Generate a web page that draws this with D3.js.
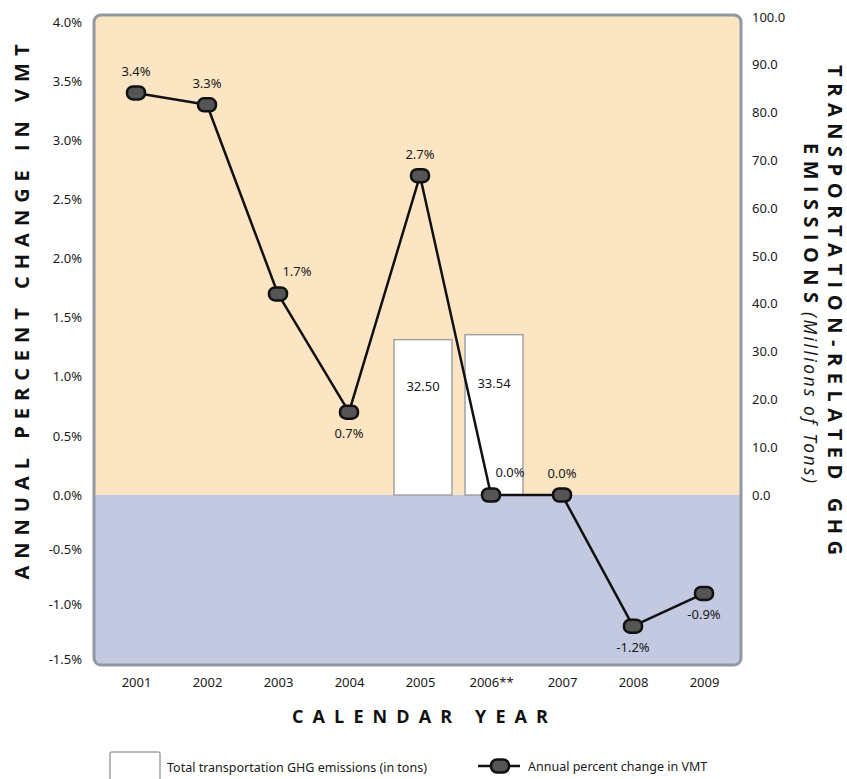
<!DOCTYPE html>
<html>
<head>
<meta charset="utf-8">
<script src="https://cdn.jsdelivr.net/npm/d3@7"></script>
<style>
  html, body { margin: 0; padding: 0; background: #fff; }
  svg { display: block; }
  text { font-family: "Noto Sans", "Liberation Sans", sans-serif; fill: #1a1a1a; }
  .title { font-family: "Open Sans", "DejaVu Sans", sans-serif; font-weight: 700; fill: #111; }
</style>
</head>
<body>
<svg id="chart" width="847" height="779"></svg>
<script>
// Calendar years and their axis labels
const years = ["2001", "2002", "2003", "2004", "2005", "2006", "2007", "2008", "2009"];
const yearLabels = ["2001", "2002", "2003", "2004", "2005", "2006**", "2007", "2008", "2009"];

// Annual percent change in vehicle miles travelled (%)
const vmtChange = [3.4, 3.3, 1.7, 0.7, 2.7, 0.0, 0.0, -1.2, -0.9];

// Total transportation GHG emissions (millions of tons)
const emissionYears = ["2005", "2006"];
const emissions = [32.50, 33.54];

// Axis ticks
const leftTicks = [-1.5, -1.0, -0.5, 0.0, 0.5, 1.0, 1.5, 2.0, 2.5, 3.0, 3.5, 4.0];
const rightTicks = [0, 10, 20, 30, 40, 50, 60, 70, 80, 90, 100];

// Where each percent label sits relative to its point
const labelPlacement = ["above", "above", "aboveRight", "below", "above", "aboveRight", "above", "below", "below"];

const svg = d3.select("#chart");
const locale = d3.formatLocale({ decimal: ".", thousands: ",", grouping: [3], currency: ["$", ""], minus: "-" });
const fmt1 = locale.format(".1f");
const fmt2 = locale.format(".2f");
const pct = v => fmt1(v) + "%";

const plot = { left: 94, right: 741, top: 15, bottom: 665 };
const FS = 13;

const x = d3.scalePoint().domain(years).range([136, 704]);
const yLeft = d3.scaleLinear().domain([-1.5, 0, 4]).range([659, 495, 22]);
const yRight = d3.scaleLinear().domain([0, 100]).range([495, 17]);

// Plot background: warm above zero, lavender below
svg.append("clipPath").attr("id", "plotClip")
  .append("rect")
  .attr("x", plot.left).attr("y", plot.top)
  .attr("width", plot.right - plot.left).attr("height", plot.bottom - plot.top)
  .attr("rx", 7);

const bg = svg.append("g").attr("clip-path", "url(#plotClip)");
bg.append("rect")
  .attr("x", plot.left).attr("y", plot.top)
  .attr("width", plot.right - plot.left).attr("height", yLeft(0) - plot.top)
  .attr("fill", "#fbe5c3");
bg.append("rect")
  .attr("x", plot.left).attr("y", yLeft(0))
  .attr("width", plot.right - plot.left).attr("height", plot.bottom - yLeft(0))
  .attr("fill", "#c2c9e1");

// Emission bars on the right-hand scale
const barW = 58;
const barShift = 3;
const barData = emissionYears.map((yr, i) => ({ year: yr, value: emissions[i] }));
const bars = svg.append("g");
bars.selectAll("rect").data(barData).join("rect")
  .attr("x", d => x(d.year) + barShift - barW / 2)
  .attr("y", d => yRight(d.value))
  .attr("width", barW)
  .attr("height", d => yRight(0) - yRight(d.value))
  .attr("fill", "#fff")
  .attr("stroke", "#a3a3a3")
  .attr("stroke-width", 1.5);
bars.selectAll("text").data(barData).join("text")
  .attr("x", d => x(d.year) + barShift)
  .attr("y", d => yRight(d.value * 0.7))
  .attr("text-anchor", "middle")
  .attr("dominant-baseline", "central")
  .attr("font-size", FS)
  .text(d => fmt2(d.value));

// VMT change line with rounded markers
const pts = years.map((yr, i) => ({ year: yr, value: vmtChange[i], place: labelPlacement[i] }));
svg.append("path")
  .datum(pts)
  .attr("fill", "none")
  .attr("stroke", "#111")
  .attr("stroke-width", 2.5)
  .attr("stroke-linejoin", "round")
  .attr("d", d3.line().x(d => x(d.year)).y(d => yLeft(d.value)));

svg.append("g").selectAll("rect").data(pts).join("rect")
  .attr("x", d => x(d.year) - 9)
  .attr("y", d => yLeft(d.value) - 6.5)
  .attr("width", 18).attr("height", 13).attr("rx", 6)
  .attr("fill", "#555")
  .attr("stroke", "#111")
  .attr("stroke-width", 2.5);

const offsets = { above: [0, -22], below: [0, 21], aboveRight: [19, -23] };
svg.append("g").selectAll("text").data(pts).join("text")
  .attr("x", d => x(d.year) + offsets[d.place][0])
  .attr("y", d => yLeft(d.value) + offsets[d.place][1])
  .attr("text-anchor", "middle")
  .attr("dominant-baseline", "central")
  .attr("font-size", FS)
  .text(d => pct(d.value));

// Plot frame
svg.append("rect")
  .attr("x", plot.left).attr("y", plot.top)
  .attr("width", plot.right - plot.left).attr("height", plot.bottom - plot.top)
  .attr("rx", 7)
  .attr("fill", "none")
  .attr("stroke", "#9297a4")
  .attr("stroke-width", 3);

// Axes
const leftAxis = svg.append("g")
  .attr("transform", `translate(${plot.left},0)`)
  .call(d3.axisLeft(yLeft).tickValues(leftTicks).tickSize(0).tickPadding(12).tickFormat(pct));
const rightAxis = svg.append("g")
  .attr("transform", `translate(${plot.right},0)`)
  .call(d3.axisRight(yRight).tickValues(rightTicks).tickSize(0).tickPadding(11).tickFormat(fmt1));
const bottomAxis = svg.append("g")
  .attr("transform", `translate(0,${plot.bottom})`)
  .call(d3.axisBottom(x).tickSize(0).tickPadding(13).tickFormat((d, i) => yearLabels[i]));

[leftAxis, rightAxis, bottomAxis].forEach(g => {
  g.select(".domain").remove();
  g.selectAll("text")
    .attr("font-size", FS)
    .attr("font-family", "'Noto Sans', 'Liberation Sans', sans-serif")
    .attr("fill", "#1a1a1a");
});

// Axis titles
svg.append("text").attr("class", "title")
  .attr("transform", "translate(21,312) rotate(-90)")
  .attr("text-anchor", "middle").attr("dominant-baseline", "central")
  .attr("font-size", 20)
  .attr("textLength", 535).attr("lengthAdjust", "spacing")
  .text("ANNUAL PERCENT CHANGE IN VMT");

svg.append("text").attr("class", "title")
  .attr("transform", "translate(835,310) rotate(90)")
  .attr("text-anchor", "middle").attr("dominant-baseline", "central")
  .attr("font-size", 20)
  .attr("textLength", 490).attr("lengthAdjust", "spacing")
  .text("TRANSPORTATION-RELATED GHG");

svg.append("text").attr("class", "title")
  .attr("transform", "translate(811,143) rotate(90)")
  .attr("text-anchor", "start").attr("dominant-baseline", "central")
  .attr("font-size", 20)
  .attr("textLength", 160).attr("lengthAdjust", "spacing")
  .text("EMISSIONS");

svg.append("text")
  .attr("transform", "translate(811,312) rotate(90)")
  .attr("text-anchor", "start").attr("dominant-baseline", "central")
  .attr("font-family", "'Open Sans', 'Noto Sans', sans-serif")
  .attr("font-style", "italic")
  .attr("font-size", 17.5)
  .attr("fill", "#111")
  .attr("textLength", 171).attr("lengthAdjust", "spacing")
  .text("(Millions of Tons)");

svg.append("text").attr("class", "title")
  .attr("x", 420).attr("y", 716)
  .attr("text-anchor", "middle").attr("dominant-baseline", "central")
  .attr("font-size", 18)
  .attr("textLength", 256).attr("lengthAdjust", "spacing")
  .text("CALENDAR YEAR");

// Legend
const legend = svg.append("g");
legend.append("rect")
  .attr("x", 110).attr("y", 752).attr("width", 50).attr("height", 40).attr("rx", 2)
  .attr("fill", "#fff").attr("stroke", "#a3a3a3").attr("stroke-width", 1.5);
legend.append("text")
  .attr("x", 167).attr("y", 767).attr("dominant-baseline", "central")
  .attr("font-size", 12.5)
  .text("Total transportation GHG emissions (in tons)");
legend.append("line")
  .attr("x1", 478).attr("x2", 520).attr("y1", 766).attr("y2", 766)
  .attr("stroke", "#111").attr("stroke-width", 2.5);
legend.append("rect")
  .attr("x", 491).attr("y", 759.5).attr("width", 18).attr("height", 13).attr("rx", 6)
  .attr("fill", "#555").attr("stroke", "#111").attr("stroke-width", 2.5);
legend.append("text")
  .attr("x", 528).attr("y", 766).attr("dominant-baseline", "central")
  .attr("font-size", 12.5)
  .text("Annual percent change in VMT");
</script>
</body>
</html>
